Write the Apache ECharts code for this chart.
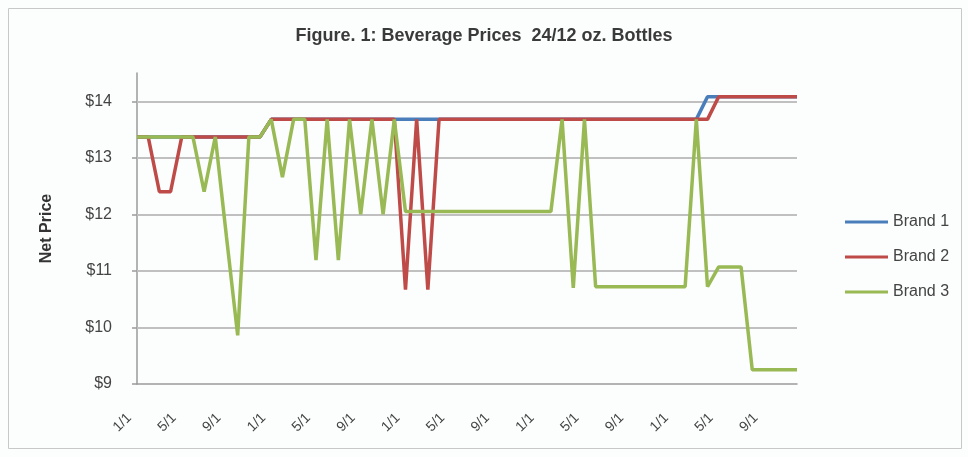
<!DOCTYPE html>
<html>
<head>
<meta charset="utf-8">
<script src="https://cdn.jsdelivr.net/npm/echarts@6/dist/echarts.min.js"></script>
<style>
html,body{margin:0;padding:0;background:#fcfdfd;}
#chart{width:968px;height:457px;}
</style>
</head>
<body>
<div id="chart"></div>
<script>
// Categories: monthly, 5 years
var categories = [
 '1/1','2/1','3/1','4/1','5/1','6/1','7/1','8/1','9/1','10/1','11/1','12/1',
 '1/1','2/1','3/1','4/1','5/1','6/1','7/1','8/1','9/1','10/1','11/1','12/1',
 '1/1','2/1','3/1','4/1','5/1','6/1','7/1','8/1','9/1','10/1','11/1','12/1',
 '1/1','2/1','3/1','4/1','5/1','6/1','7/1','8/1','9/1','10/1','11/1','12/1',
 '1/1','2/1','3/1','4/1','5/1','6/1','7/1','8/1','9/1','10/1','11/1','12/1'
];
var brand1 = [
 13.37,13.37,13.37,13.37,13.37,13.37,13.37,13.37,13.37,13.37,13.37,13.37,
 13.68,13.68,13.68,13.68,13.68,13.68,13.68,13.68,13.68,13.68,13.68,13.68,
 13.68,13.68,13.68,13.68,13.68,13.68,13.68,13.68,13.68,13.68,13.68,13.68,
 13.68,13.68,13.68,13.68,13.68,13.68,13.68,13.68,13.68,13.68,13.68,13.68,
 13.68,13.68,13.68,14.08,14.08,14.08,14.08,14.08,14.08,14.08,14.08,14.08
];
var brand2 = [
 13.37,13.37,12.40,12.40,13.37,13.37,13.37,13.37,13.37,13.37,13.37,13.37,
 13.68,13.68,13.68,13.68,13.68,13.68,13.68,13.68,13.68,13.68,13.68,13.68,
 10.67,13.68,10.67,13.68,13.68,13.68,13.68,13.68,13.68,13.68,13.68,13.68,
 13.68,13.68,13.68,13.68,13.68,13.68,13.68,13.68,13.68,13.68,13.68,13.68,
 13.68,13.68,13.68,13.68,14.08,14.08,14.08,14.08,14.08,14.08,14.08,14.08
];
var brand3 = [
 13.37,13.37,13.37,13.37,13.37,13.37,12.40,13.37,11.60,9.86,13.37,13.37,
 13.68,12.66,13.68,13.68,11.19,13.68,11.19,13.68,12.00,13.68,12.00,13.68,
 12.05,12.05,12.05,12.05,12.05,12.05,12.05,12.05,12.05,12.05,12.05,12.05,
 12.05,12.05,13.68,10.70,13.68,10.72,10.72,10.72,10.72,10.72,10.72,10.72,
 10.72,10.72,13.68,10.72,11.07,11.07,11.07,9.25,9.25,9.25,9.25,9.25
];
var seriesNames = ['Brand 1','Brand 2','Brand 3'];
var gridValues = [10,11,12,13,14];

var chart = echarts.init(document.getElementById('chart'), null, {renderer:'canvas'});
var font = 'Liberation Sans, Arial, sans-serif';
var option = {
  backgroundColor: '#fcfdfd',
  animation: false,
  title: {
    text: 'Figure. 1: Beverage Prices  24/12 oz. Bottles',
    left: 'center', top: 27, padding: 0,
    textStyle: {fontFamily: font, fontSize: 18, fontWeight: 'bold', color: '#3a3a3a'}
  },
  graphic: [{
    type: 'rect', shape: {x: 8.5, y: 8.5, width: 953, height: 440},
    style: {fill: 'none', stroke: '#c8c8c8', lineWidth: 1}, silent: true, z: -1
  }],
  legend: {
    orient: 'vertical', left: 845, top: 214, padding: 0,
    icon: 'rect', itemWidth: 43, itemHeight: 3, itemGap: 19,
    textStyle: {fontFamily: font, fontSize: 16, lineHeight: 16, color: '#444'},
    data: seriesNames
  },
  grid: {left: 137, right: 171, top: 73, bottom: 73, containLabel: false},
  xAxis: {
    type: 'category', data: categories, boundaryGap: false,
    axisLine: {lineStyle: {color: '#9a9a9a', width: 1.5}},
    axisTick: {show: false},
    axisLabel: {interval: 3, rotate: 45, margin: 24, padding: [0, 11, 0, 0],
      fontFamily: font, fontSize: 14, color: '#444'},
    splitLine: {show: false}
  },
  yAxis: {
    type: 'value', min: 9, max: 14.5, interval: 1,
    name: 'Net Price', nameLocation: 'middle', nameGap: 82, nameRotate: 90,
    nameTextStyle: {fontFamily: font, fontSize: 16, fontWeight: 'bold', color: '#333'},
    axisLine: {show: true, lineStyle: {color: '#9a9a9a', width: 1.5}},
    axisTick: {show: true, length: 5, lineStyle: {color: '#9a9a9a', width: 1.5}},
    axisLabel: {showMaxLabel: false, margin: 25, fontFamily: font, fontSize: 16, color: '#444',
      formatter: function(v){ return '$' + v; }},
    splitLine: {show: false}
  },
  series: [
    {name: seriesNames[0], type: 'line', data: brand1, symbol: 'none', color: '#4a7ebb',
      lineStyle: {width: 3.5, color: '#4a7ebb'}, z: 2,
      markLine: {silent: true, symbol: 'none', label: {show: false},
        lineStyle: {color: '#c0c0c0', width: 2, type: 'solid'},
        data: gridValues.map(function(v){ return {yAxis: v}; }), z: 1}},
    {name: seriesNames[1], type: 'line', data: brand2, symbol: 'none', color: '#be4b48',
      lineStyle: {width: 3.5, color: '#be4b48'}, z: 3},
    {name: seriesNames[2], type: 'line', data: brand3, symbol: 'none', color: '#98b954',
      lineStyle: {width: 3.5, color: '#98b954'}, z: 4}
  ]
};
chart.setOption(option);
</script>
</body>
</html>
